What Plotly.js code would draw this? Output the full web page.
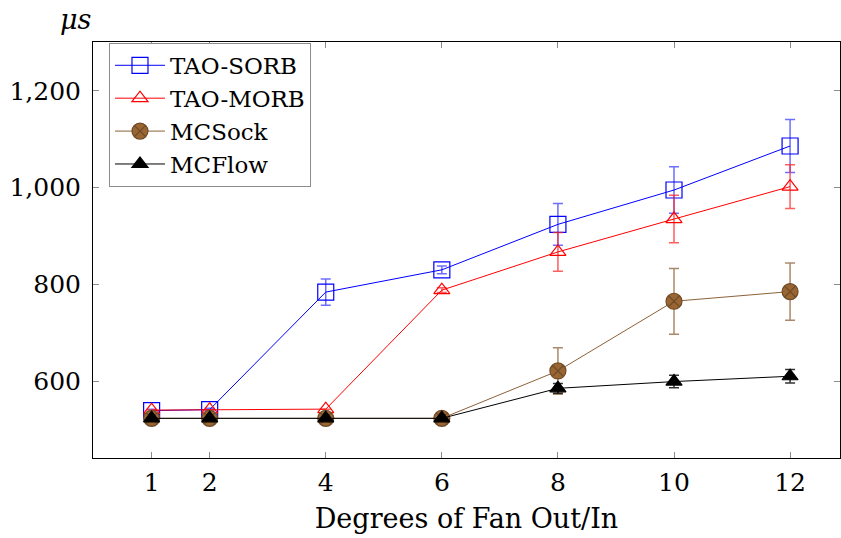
<!DOCTYPE html>
<html>
<head>
<meta charset="utf-8">
<script src="https://cdn.plot.ly/plotly-3.0.1.min.js"></script>
<style>html,body{margin:0;padding:0;background:#fff;}#chart{width:841px;height:538px;}</style>
</head>
<body>
<div id="chart"></div>
<script>
var fanOut = [1, 2, 4, 6, 8, 10, 12];

var taoSorb    = [539, 541, 784, 830, 924, 995, 1086];
var taoSorbErr = [3, 3, 27, 8, 43, 48, 55];

var taoMorb    = [540, 541, 542, 788, 867, 935, 1002];
var taoMorbErr = [0, 0, 0, 5, 40, 49, 45];

var mcSock     = [523, 523, 523, 523, 621, 765, 785];
var mcSockErr  = [0, 0, 0, 0, 48, 68, 59];

var mcFlow     = [523, 523, 523, 523, 585, 599, 610];
var mcFlowErr  = [0, 0, 0, 0, 10, 13, 14];

var yTicks = [600, 800, 1000, 1200];
var xTicks = [1, 2, 4, 6, 8, 10, 12];

var serif = 'DejaVu Serif';

function series(name, y, err, color, errColor, symbol, size, fill, mline) {
  return {
    type: 'scatter', mode: 'lines+markers', name: name,
    x: fanOut, y: y,
    line: {color: color, width: 1},
    marker: {symbol: symbol, size: size, color: fill, line: {color: mline, width: 1.2}},
    error_y: {type: 'data', array: err, visible: true, color: errColor, thickness: 1.5, width: 5}
  };
}

var data = [
  series('TAO-SORB', taoSorb, taoSorbErr, '#0000ff', 'rgba(60,60,255,0.75)', 'square-open', 16, '#0000ff', '#0000ff'),
  series('TAO-MORB', taoMorb, taoMorbErr, '#ff0000', 'rgba(255,40,40,0.75)', 'triangle-up-open', 14, '#ff0000', '#ff0000'),
  series('MCSock', mcSock, mcSockErr, '#8c6239', 'rgba(140,98,57,0.75)', 'circle-x', 16, '#996633', '#6e4a26'),
  series('MCFlow', mcFlow, mcFlowErr, '#000000', 'rgba(0,0,0,0.8)', 'triangle-up', 14, '#000000', '#000000')
];

var layout = {
  width: 841, height: 538,
  margin: {l: 93, r: 1, t: 42, b: 80},
  paper_bgcolor: '#ffffff', plot_bgcolor: '#ffffff',
  font: {family: serif, color: '#000000', size: 25},
  showlegend: true,
  legend: {
    x: 0.0214, y: 0.998, xanchor: 'left', yanchor: 'top',
    bgcolor: '#ffffff', bordercolor: '#8c8c8c', borderwidth: 1,
    font: {family: serif, size: 23, color: '#000000'},
    itemwidth: 50
  },
  xaxis: {
    range: [-0.01, 12.86],
    tickmode: 'array', tickvals: xTicks, ticktext: xTicks.map(String),
    ticks: 'inside', ticklen: 6, tickwidth: 1, tickcolor: '#8c8c8c',
    showline: true, linecolor: '#000000', linewidth: 1, mirror: 'ticks',
    showgrid: false, zeroline: false,
    tickfont: {family: serif, size: 25},
    ticklabelstandoff: 2,
    title: {text: 'Degrees of Fan Out/In', font: {family: serif, size: 27}, standoff: 13}
  },
  yaxis: {
    range: [441, 1301],
    tickmode: 'array', tickvals: yTicks, ticktext: yTicks.map(function(v){ return v.toLocaleString('en-US'); }),
    ticks: 'inside', ticklen: 6, tickwidth: 1, tickcolor: '#8c8c8c',
    showline: true, linecolor: '#000000', linewidth: 1, mirror: 'ticks',
    showgrid: false, zeroline: false,
    tickfont: {family: serif, size: 25},
    ticklabelstandoff: 6
  },
  annotations: [{
    xref: 'paper', yref: 'paper', x: -0.024, y: 1.055,
    xanchor: 'center', yanchor: 'middle', showarrow: false,
    text: '<i>μs</i>', font: {family: serif, size: 27, color: '#000000'}
  }]
};

Plotly.newPlot('chart', data, layout, {displayModeBar: false, staticPlot: true});
</script>
</body>
</html>
